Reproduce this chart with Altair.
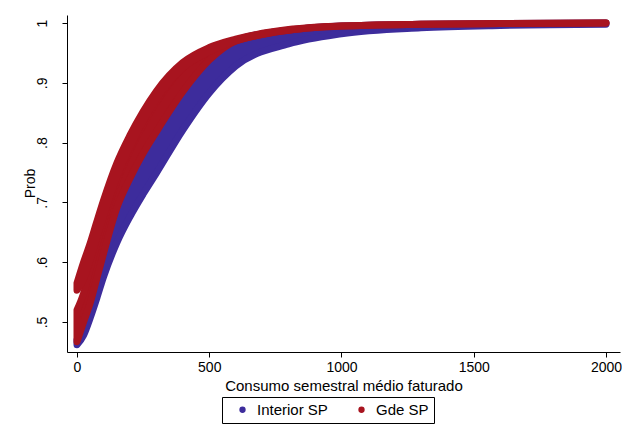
import altair as alt
import pandas as pd

# consumption values (x) at which the bands were read
x_vals = [0, 25, 50, 75, 100, 150, 200, 250, 300, 400, 500, 600, 800, 1000, 1300, 1600, 2000]

# Gde SP : upper sub-band (top / bottom) and main sub-band (top / bottom)
gde_a_top = [0.565, 0.600, 0.632, 0.668, 0.703, 0.765, 0.812, 0.852, 0.886, 0.934, 0.959, 0.973, 0.989, 0.995, 0.998, 0.999, 1.000]
gde_a_bot = [0.553, 0.572, 0.605, 0.642, 0.677, 0.742, 0.793, 0.836, 0.873, 0.925, 0.952, 0.970, 0.988, 0.995, 0.998, 0.999, 1.000]
gde_b_top = [0.520, 0.548, 0.590, 0.630, 0.668, 0.735, 0.787, 0.830, 0.868, 0.925, 0.952, 0.970, 0.988, 0.995, 0.998, 0.999, 1.000]
gde_b_bot = [0.467, 0.500, 0.532, 0.573, 0.614, 0.690, 0.740, 0.782, 0.818, 0.885, 0.938, 0.970, 0.988, 0.995, 0.998, 0.999, 1.000]

# Interior SP band (top / bottom)
int_top = [0.470, 0.505, 0.540, 0.580, 0.620, 0.695, 0.745, 0.787, 0.823, 0.889, 0.940, 0.971, 0.988, 0.995, 0.998, 0.999, 1.000]
int_bot = [0.462, 0.478, 0.507, 0.540, 0.575, 0.632, 0.676, 0.714, 0.749, 0.821, 0.883, 0.928, 0.965, 0.982, 0.992, 0.996, 0.998]

series = ["Interior SP", "Gde SP"]
colors = ["#3d2c9c", "#a8141f"]

x_ticks = [0, 500, 1000, 1500, 2000]
y_ticks = [0.5, 0.6, 0.7, 0.8, 0.9, 1.0]

FONT = "Liberation Sans"

cscale = alt.Scale(domain=series, range=colors)
xscale = alt.Scale(domain=[-37.8, 2053], nice=False, zero=False)
yscale = alt.Scale(domain=[0.4498, 1.0134], nice=False, zero=False)

xaxis = alt.Axis(values=x_ticks, format="d", title="Consumo semestral médio faturado",
                 grid=False, tickSize=5, labelPadding=3, labelFontSize=14, titleFontSize=15,
                 titleFontWeight="normal", titleY=26, titleBaseline="top", titleAlign="center",
                 labelFont=FONT, titleFont=FONT,
                 domainColor="black", tickColor="black", labelColor="black", titleColor="black")
yaxis = alt.Axis(values=y_ticks, labelExpr="datum.value == 1 ? '1' : slice(format(datum.value, '.1f'), 1)",
                 title="Prob", grid=False, tickSize=5, labelAngle=270, labelAlign="center",
                 labelBaseline="middle", labelPadding=20, labelFontSize=14, titleFontSize=14,
                 titleFontWeight="normal", titleAngle=270, titleX=-37, titleY=168,
                 titleAlign="center", titleBaseline="middle", labelFont=FONT, titleFont=FONT,
                 domainColor="black", tickColor="black", labelColor="black", titleColor="black")

legend = alt.Legend(title=None, orient="none", legendX=155, legendY=382, direction="horizontal",
                    columns=2, gridAlign="all", symbolType="circle", symbolSize=40,
                    labelFontSize=15, labelFont=FONT, labelColor="black", labelOffset=7,
                    symbolOffset=8, strokeColor="black", padding=5, columnPadding=18,
                    fillColor="white", symbolStrokeWidth=0)


def band(name, lo, hi, show_legend):
    df = pd.DataFrame({"x": x_vals, "lo": lo, "hi": hi, "serie": name})
    return alt.Chart(df).mark_area(
        strokeWidth=7, strokeJoin="round", strokeCap="round", interpolate="monotone", opacity=1
    ).encode(
        x=alt.X("x:Q", scale=xscale, axis=xaxis),
        y=alt.Y("lo:Q", scale=yscale, axis=yaxis),
        y2="hi:Q",
        color=alt.Color("serie:N", scale=cscale, legend=legend if show_legend else None),
        stroke=alt.Stroke("serie:N", scale=cscale, legend=None),
    )


chart = alt.layer(
    band("Interior SP", int_bot, int_top, True),
    band("Gde SP", gde_b_bot, gde_b_top, False),
    band("Gde SP", gde_a_bot, gde_a_top, False),
).properties(
    width=553, height=337,
    autosize=alt.AutoSizeParams(type="none"),
    padding={"left": 59, "top": 7, "right": 2, "bottom": 75},
).configure_view(stroke=None)

chart.save("out.html", embed_options={"renderer": "svg", "actions": False})
